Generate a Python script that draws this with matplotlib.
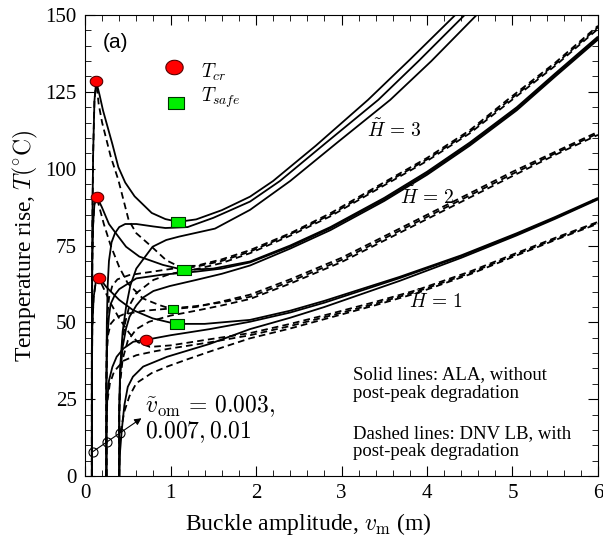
import numpy as np
import matplotlib
matplotlib.use("Agg")
import matplotlib.pyplot as plt
from matplotlib.ticker import MultipleLocator

plt.rcParams['font.family'] = ['Liberation Serif', 'DejaVu Serif']
plt.rcParams['mathtext.fontset'] = 'cm'

# (x [m], T [C])
# solid lines (ALA), H = 3, 2, 1 ; v_om = 0.003 (a), 0.007 (b), 0.01 (c)
s3a = [(0.08,0),(0.08,40),(0.085,80),(0.095,105),(0.11,122),(0.13,128.5),(0.17,124),(0.21,119),(0.32,108),(0.39,100.5),
       (0.47,95.5),(0.58,91),(0.78,85.6),(0.94,83.6),(1.09,82.7),(1.3,83.5),(1.6,86.5),(1.93,90.9),(2.2,96),(2.7,107.5),
       (3.31,122.4),(3.8,135.5),(4.33,150)]
s3b = [(0.25,0),(0.25,30),(0.255,50),(0.265,62),(0.28,70),(0.31,76),(0.35,79),(0.4,81),(0.47,82),(0.6,82),(0.8,81.2),
       (0.94,80.7),(1.2,81),(1.5,84),(1.93,89.3),(2.28,96),(2.8,108),(3.43,122.4),(3.9,135),(4.44,150)]
s3c = [(0.40,0),(0.40,20),(0.41,35),(0.44,47),(0.48,55),(0.53,62),(0.6,67.5),(0.79,74.6),(0.95,76.8),(1.1,77.9),
       (1.52,80.5),(1.93,86.6),(2.4,96),(2.95,108.5),(3.57,122.4),(4.05,135),(4.58,150)]
s2a = [(0.08,0),(0.08,40),(0.085,70),(0.095,82),(0.11,88.5),(0.14,90.8),(0.195,87.6),(0.28,82),(0.39,77.9),(0.48,74.6),
       (0.635,71.4),(0.91,68.7),(1.16,67),(1.5,67.5),(1.93,69.8),(2.4,75),(2.87,81),(3.5,90.5),(4.0,99),(4.5,108.5),
       (5.05,120),(5.5,131),(6.0,143)]
s2b = [(0.25,0),(0.25,30),(0.26,45),(0.28,52),(0.30,56),(0.35,59),(0.4,60.8),(0.6,64.3),(0.9,65.5),(1.3,66.5),
       (1.6,67.5),(1.93,69.5),(2.4,74.6),(2.87,80.6),(3.5,90),(4.0,98.5),(4.5,108),(5.05,119.5),(5.5,130.5),(6.0,142.5)]
s2c = [(0.40,0),(0.40,20),(0.41,32),(0.44,42),(0.48,48),(0.52,51.8),(0.6,55.5),(0.675,58),(0.8,60.2),(0.99,61.8),
       (1.3,63.8),(1.6,65.8),(1.93,68.5),(2.4,74),(2.87,80),(3.5,89.5),(4.0,98),(4.5,107.5),(5.05,119),(5.5,130),(6.0,142)]
s1a = [(0.08,0),(0.08,30),(0.085,48),(0.1,58),(0.125,63),(0.167,64.5),(0.246,61.6),(0.40,57.3),(0.56,54),(0.79,51.3),
       (1.06,49.5),(1.4,49.5),(1.93,50.8),(2.4,53.8),(2.8,57),(3.68,64.8),(4.4,71.8),(5.05,79),(5.5,84.3),(6.0,90.5)]
s1b = [(0.25,0),(0.25,15),(0.26,25),(0.28,31),(0.32,35.5),(0.37,38.8),(0.45,41.5),(0.565,43.7),(0.71,44.3),(1.0,45.8),
       (1.46,47.8),(1.93,50.2),(2.4,53.2),(2.8,56.4),(3.68,64.4),(4.4,71.5),(5.05,78.7),(5.5,84),(6.0,90.2)]
s1c = [(0.40,0),(0.41,8),(0.43,15),(0.46,23),(0.5,29),(0.56,32.3),(0.68,35.6),(0.96,38.8),(1.46,43),(1.93,47.8),
       (2.4,51.5),(2.8,55),(3.68,63.5),(4.4,71),(5.05,78.3),(5.5,83.7),(6.0,90)]

# dashed lines (DNV LB)
d3a = [(0.08,0),(0.08,40),(0.085,80),(0.095,105),(0.11,122),(0.13,128.5),(0.16,121),(0.2,115),(0.3,104),(0.39,96.3),
       (0.51,83.3),(0.6,79),(0.78,74.6),(0.95,70.2),(1.09,68.3),(1.3,68.4),(1.6,70.5),(1.93,73.5),(2.4,79),(2.87,85.5),
       (3.4,94),(4.0,103.5),(4.5,112.5),(4.94,122.4),(5.5,134.5),(6.0,146.5)]
d3b = [(0.25,0),(0.25,30),(0.255,45),(0.265,53),(0.28,58),(0.32,62),(0.38,64),(0.52,65.4),(0.79,66.5),(1.06,67.6),
       (1.3,68.1),(1.6,70),(1.93,73),(2.4,78.7),(2.87,85),(3.4,93.5),(4.0,103),(4.5,112),(4.94,121.8),(5.5,134),(6.0,146)]
d3c = [(0.40,0),(0.40,20),(0.41,32),(0.43,42),(0.47,50),(0.52,55.5),(0.6,59.5),(0.8,63.8),(1.0,65.8),(1.3,67.3),
       (1.6,69.3),(1.93,72.5),(2.4,78.2),(2.87,84.5),(3.4,93),(4.0,102.5),(4.5,111.5),(4.94,121.2),(5.5,133.5),(6.0,145.5)]
d2a = [(0.08,0),(0.08,40),(0.085,70),(0.095,82),(0.11,88.5),(0.14,90.8),(0.156,88.7),(0.22,82),(0.30,75),(0.40,68),
       (0.5,62.7),(0.675,57.8),(0.87,55.6),(1.02,54.3),(1.3,55),(1.6,56.8),(1.93,59),(2.4,64),(3.0,71),(3.5,78),
       (4.0,85),(4.5,92),(5.0,99),(5.5,105.5),(6.0,112)]
d2b = [(0.25,0),(0.25,30),(0.255,40),(0.27,46),(0.3,49.5),(0.36,51.5),(0.45,52.6),(0.7,53.8),(1.0,54.5),(1.3,55.3),
       (1.6,56.5),(1.93,58.3),(2.4,63.3),(3.0,70.3),(3.5,77.3),(4.0,84.3),(4.5,91.3),(5.0,98.3),(5.5,105),(6.0,111.5)]
d2c = [(0.40,0),(0.40,20),(0.41,30),(0.44,38),(0.5,44),(0.6,47.8),(0.75,50.2),(1.0,52.2),(1.3,53.8),(1.6,55.5),
       (1.93,57.6),(2.4,62.6),(3.0,69.6),(3.5,76.6),(4.0,83.6),(4.5,90.6),(5.0,97.6),(5.5,104.5),(6.0,111)]
d1a = [(0.08,0),(0.08,30),(0.085,48),(0.1,58),(0.125,63),(0.167,64.5),(0.19,62.7),(0.30,56.2),(0.40,51.3),(0.52,46.4),
       (0.62,43.5),(0.76,42),(1.0,42.5),(1.46,44.5),(1.93,46.5),(2.4,49.5),(2.9,53),(3.4,56.7),(3.88,60.5),(4.5,66.5),
       (5.05,72.6),(5.5,77.5),(6.0,82.7)]
d1b = [(0.25,0),(0.25,15),(0.26,24),(0.29,30),(0.34,34),(0.45,37.5),(0.6,39.3),(0.8,40.5),(1.0,41.5),(1.46,43.5),
       (1.93,45.8),(2.4,48.8),(2.9,52.4),(3.4,56.1),(3.88,60),(4.5,66),(5.05,72.2),(5.5,77.1),(6.0,82.4)]
d1c = [(0.40,0),(0.40,8),(0.42,15),(0.46,21),(0.52,26),(0.6,30.2),(0.78,33.5),(0.96,35.6),(1.2,38),(1.46,40.5),
       (1.93,44.8),(2.4,48),(2.9,51.8),(3.4,55.6),(3.88,59.5),(4.5,65.6),(5.05,71.8),(5.5,76.8),(6.0,82.1)]

t_cr = [(0.13,128.5),(0.14,90.8),(0.167,64.5),(0.71,44.3)]
t_safe = [(1.09,82.7),(1.16,67.0),(1.08,49.5)]
t_safe_small = [(1.03,54.3)]
v_om_pts = [(0.09,7.9),(0.26,11.2),(0.41,13.9)]

fig = plt.figure(figsize=(6.03,5.37), dpi=100)
ax = fig.add_axes([0.141,0.1136,0.8507,0.8584])

for c in [s3a,s3b,s3c,s2a,s2b,s2c,s1a,s1b,s1c]:
    c = np.array(c)
    ax.plot(c[:,0], c[:,1], color='k', lw=1.3, solid_capstyle='butt')
for c in [d3a,d3b,d3c,d2a,d2b,d2c,d1a,d1b,d1c]:
    c = np.array(c)
    ax.plot(c[:,0], c[:,1], color='k', lw=1.3, ls=(0,(3.7,2.3)))

# ellipse / rectangle markers
th = np.linspace(0, 2*np.pi, 40)
ell = np.column_stack([1.2*np.cos(th), np.sin(th)])
rect = [(-1.3,-1),(1.3,-1),(1.3,1),(-1.3,1),(-1.3,-1)]

p = np.array(t_cr)
ax.plot(p[:,0], p[:,1], ls='none', marker=ell, ms=9, mfc='#ff0000', mec='#550000', mew=0.8, zorder=5)
p = np.array(t_safe)
ax.plot(p[:,0], p[:,1], ls='none', marker=rect, ms=10, mfc='#00ee00', mec='#003300', mew=0.8, zorder=5)
p = np.array(t_safe_small)
ax.plot(p[:,0], p[:,1], ls='none', marker=rect, ms=7.5, mfc='#00ee00', mec='#003300', mew=0.8, zorder=5)

# legend by hand
ax.plot([1.04], [133], ls='none', marker=ell, ms=12.5, mfc='#ff0000', mec='#550000', mew=0.8)
ax.plot([1.06], [121.5], ls='none', marker=rect, ms=11.5, mfc='#00ee00', mec='#003300', mew=0.8)
ax.text(1.36, 131.5, r'$T_{cr}$', fontsize=14, va='center')
ax.text(1.36, 123, r'$T_{safe}$', fontsize=14, va='center')

p = np.array(v_om_pts)
ax.plot(p[:,0], p[:,1], ls='none', marker='o', ms=6.5, mfc='none', mec='k', mew=0.8, zorder=6)
ax.annotate('', xy=(0.66,18.8), xytext=(0.09,7.9),
            arrowprops=dict(arrowstyle='-|>', lw=0.8, color='k', mutation_scale=10, shrinkA=0, shrinkB=0))
ax.text(0.70, 20.8, r'$\tilde{v}_{\rm om}\,=\,0.003,$', fontsize=17, va='baseline')
ax.text(0.70, 12.2, r'$0.007, 0.01$', fontsize=17, va='baseline')

ax.text(3.62, 112.5, r'$\tilde{H}\,=\,3$', fontsize=14, ha='center', va='center')
ax.text(4.0, 91, r'$\tilde{H}\,=\,2$', fontsize=14, ha='center', va='center')
ax.text(4.1, 57, r'$\tilde{H}\,=\,1$', fontsize=14, ha='center', va='center')

ax.text(3.13, 35.7, 'Solid lines: ALA, without\npost-peak degradation', fontsize=13.5, va='top', linespacing=1.1)
ax.text(3.13, 16.6, 'Dashed lines: DNV LB, with\npost-peak degradation', fontsize=13.5, va='top', linespacing=1.1)
ax.text(0.21, 144, '(a)', fontsize=15, va='top', family=['Liberation Sans'])

ax.set_xlim(0, 6)
ax.set_ylim(0, 150)
ax.xaxis.set_major_locator(MultipleLocator(1))
ax.xaxis.set_minor_locator(MultipleLocator(0.2))
ax.yaxis.set_major_locator(MultipleLocator(25))
ax.yaxis.set_minor_locator(MultipleLocator(5))
ax.tick_params(which='both', direction='in', top=True, right=True, labelsize=15)
ax.tick_params(which='major', length=7, pad=6)
ax.tick_params(which='minor', length=4)
ax.set_xlabel(r'Buckle amplitude, $v_{\rm m}$ (m)', fontsize=17)
ax.set_ylabel(r'Temperature rise, $T(^{\circ}{\rm C})$', fontsize=17)
ax.xaxis.set_label_coords(0.435, -0.075)

fig.savefig('out.png', dpi=100)
